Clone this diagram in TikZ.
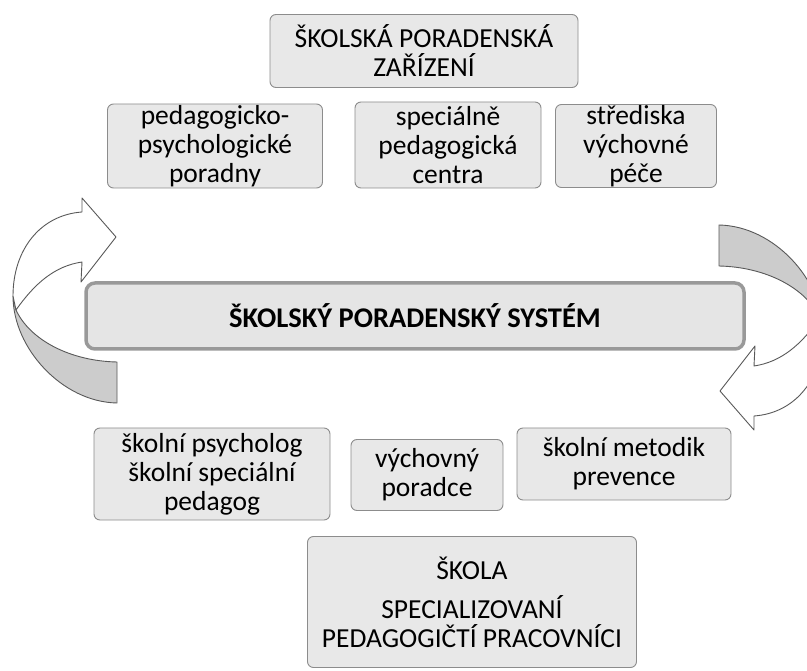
\documentclass[tikz,border=0pt]{standalone}
\usepackage{fontspec}
\setmainfont{Carlito}
\usepackage{xcolor}
\usepackage{tikz}
\usetikzlibrary{positioning}

% one ribbon arrow, the left one; the right one is the same turned round
\newcommand{\ribbonloop}{%
  \filldraw[ribbonback] (117,403) .. controls (62,402) and (13,348) .. (13,296)
    -- (16,310) .. controls (30,340) and (70,361) .. (117,362) -- cycle;
  \filldraw[ribbonfront] (16,310) .. controls (35,283) and (55,266) .. (82,262)
    -- (81,282) -- (116,237) -- (82,198) -- (82,212)
    .. controls (40,215) and (13,250) .. (13,296) -- cycle;
}

\begin{document}
\begin{tikzpicture}[x=1pt, y=-1pt,
    box/.style={rectangle, draw=black!45, fill=black!9, rounded corners=6pt, line width=0.9pt, align=center, inner sep=0pt, font=\fontsize{27.5}{29}\selectfont},
    sysbar/.style={rectangle, draw=black!40, fill=black!10, rounded corners=9pt, line width=3.5pt, align=center, inner sep=0pt, font=\fontsize{28.5}{32}\selectfont\bfseries},
    ribbonback/.style={fill=black!20, draw=black!65, line width=0.9pt, line join=round},
    ribbonfront/.style={fill=white, draw=black!65, line width=0.9pt, line join=round}]

    \useasboundingbox (0,0) rectangle (807,671);
    \clip (0,0) rectangle (807,671);

    % Top: counselling facilities
    \node [box, minimum width=308pt, minimum height=73pt] at (424,51) (zarizeni) {ŠKOLSKÁ PORADENSKÁ\\ZAŘÍZENÍ};
    \node [box, minimum width=215pt, minimum height=84pt] at (215,146) (ppp) {pedagogicko-\\psychologické\\poradny};
    \node [box, minimum width=186pt, minimum height=86pt] at (448,145) (spc) {speciálně\\pedagogická\\centra};
    \node [box, minimum width=161pt, minimum height=83pt] at (636,146) (svp) {střediska\\výchovné\\péče};

    % System
    \node [sysbar, minimum width=658pt, minimum height=66pt] at (415,316) (system) {ŠKOLSKÝ PORADENSKÝ SYSTÉM};

    % Bottom: school staff
    \node [box, minimum width=236pt, minimum height=92pt] at (212,474) (psych) {školní psycholog\\školní speciální\\pedagog};
    \node [box, minimum width=152pt, minimum height=71pt] at (427,475) (vp) {výchovný\\poradce};
    \node [box, minimum width=214pt, minimum height=72pt] at (624,464) (metodik) {školní metodik\\prevence};
    \node [box, minimum width=329pt, minimum height=131pt] at (472,602) (skola) {ŠKOLA\\[10pt]SPECIALIZOVANÍ\\PEDAGOGIČTÍ PRACOVNÍCI};

    % Curved arrows
    \ribbonloop
    \begin{scope}[rotate around={180:(418,314)}]
        \ribbonloop
    \end{scope}

\end{tikzpicture}
\end{document}
